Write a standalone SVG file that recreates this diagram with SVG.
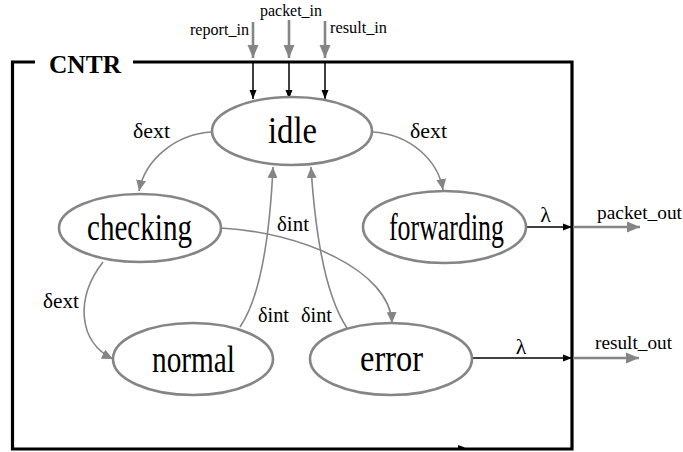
<svg xmlns="http://www.w3.org/2000/svg" width="683" height="452" viewBox="0 0 683 452">
<style>
text{font-family:"Liberation Serif","Times New Roman",serif;fill:#000}
.node ellipse{fill:#fff;stroke:#858585;stroke-width:2.6}
.nl{font-size:38px;text-anchor:middle}
.lbl{font-size:20px}
.lam{font-size:22px;text-anchor:middle}
.io{font-size:16px}
.out{font-size:19.5px}
.g{fill:none;stroke:#858585;stroke-width:1.6}
.gt{fill:none;stroke:#858585;stroke-width:2.6}
.b{fill:none;stroke:#000;stroke-width:1.5}
</style>
<defs>
<marker id="ag" markerUnits="userSpaceOnUse" markerWidth="12" markerHeight="10" refX="11" refY="5" orient="auto"><path d="M0,0 L11,5 L0,10 Z" fill="#858585"/></marker>
<marker id="agt" markerUnits="userSpaceOnUse" markerWidth="14" markerHeight="12" refX="13" refY="6" orient="auto"><path d="M0,0.5 L13,6 L0,11.5 Z" fill="#858585"/></marker>
<marker id="ab" markerUnits="userSpaceOnUse" markerWidth="10" markerHeight="8" refX="9" refY="4" orient="auto"><path d="M0,0.5 L9,4 L0,7.5 Z" fill="#000"/></marker>
</defs>

<g id="frame">
<path d="M35,62 L12.5,62 L12.5,449 L572,449 L572,62 L133,62" fill="none" stroke="#000" stroke-width="3.2"/>
<text x="49" y="73" font-size="26" font-weight="bold" textLength="72" lengthAdjust="spacingAndGlyphs">CNTR</text>
<path d="M458,445 L465,447.5 L458,450 Z" fill="#000"/>
</g>

<g id="connectors">
<line class="gt" x1="253" y1="22" x2="253" y2="58" marker-end="url(#agt)"/>
<line class="gt" x1="289" y1="20" x2="289" y2="58" marker-end="url(#agt)"/>
<line class="gt" x1="325" y1="21" x2="325" y2="58" marker-end="url(#agt)"/>
<line class="b" x1="253" y1="63" x2="253" y2="99" marker-end="url(#ab)"/>
<line class="b" x1="289" y1="63" x2="289" y2="99" marker-end="url(#ab)"/>
<line class="b" x1="325" y1="63" x2="325" y2="99" marker-end="url(#ab)"/>

<path class="g" d="M212,132 C175,134 145,160 139,191" marker-end="url(#ag)"/>
<path class="g" d="M372,132 C410,134 438,160 443,190" marker-end="url(#ag)"/>
<path class="g" d="M103,262 C75,298 78,342 113,359" marker-end="url(#ag)"/>
<path class="g" d="M221,228 C300,232 390,270 392,323" marker-end="url(#ag)"/>
<path class="g" d="M240,327 C262,295 270,230 273,167" marker-end="url(#ag)"/>
<path class="g" d="M347,328 C325,295 315,230 311,167" marker-end="url(#ag)"/>

<line class="b" x1="526" y1="227" x2="572" y2="227" marker-end="url(#ab)"/>
<line class="b" x1="472" y1="358" x2="572" y2="358" marker-end="url(#ab)"/>
<line class="gt" x1="573" y1="227" x2="640" y2="227" marker-end="url(#agt)"/>
<line class="gt" x1="573" y1="358" x2="639" y2="358" marker-end="url(#agt)"/>

<text class="io" x="190" y="35" textLength="59" lengthAdjust="spacingAndGlyphs">report_in</text>
<text class="io" x="260" y="16" textLength="62" lengthAdjust="spacingAndGlyphs">packet_in</text>
<text class="io" x="330" y="33" textLength="57" lengthAdjust="spacingAndGlyphs">result_in</text>
<text class="lbl" x="133" y="138" textLength="37" lengthAdjust="spacingAndGlyphs">δext</text>
<text class="lbl" x="410" y="138" textLength="37" lengthAdjust="spacingAndGlyphs">δext</text>
<text class="lbl" x="43" y="308" textLength="36" lengthAdjust="spacingAndGlyphs">δext</text>
<text class="lbl" x="277" y="231" textLength="32" lengthAdjust="spacingAndGlyphs">δint</text>
<text class="lbl" x="258" y="322" textLength="31" lengthAdjust="spacingAndGlyphs">δint</text>
<text class="lbl" x="301" y="322" textLength="31" lengthAdjust="spacingAndGlyphs">δint</text>
<text class="lam" x="545.5" y="222">λ</text>
<text class="lam" x="521" y="354">λ</text>
<text class="out" x="597" y="219" textLength="85" lengthAdjust="spacingAndGlyphs">packet_out</text>
<text class="out" x="595" y="349" textLength="77" lengthAdjust="spacingAndGlyphs">result_out</text>
</g>

<g id="idle" class="node">
<ellipse cx="292" cy="131" rx="80" ry="34"/>
<text class="nl" x="292.5" y="143" textLength="49" lengthAdjust="spacingAndGlyphs">idle</text>
</g>
<g id="checking" class="node">
<ellipse cx="140" cy="228" rx="81" ry="34"/>
<text class="nl" x="139.5" y="240" textLength="105" lengthAdjust="spacingAndGlyphs">checking</text>
</g>
<g id="forwarding" class="node">
<ellipse cx="444.5" cy="227" rx="81.5" ry="36"/>
<text class="nl" x="446.5" y="240" textLength="115" lengthAdjust="spacingAndGlyphs">forwarding</text>
</g>
<g id="normal" class="node">
<ellipse cx="193" cy="359" rx="80" ry="36"/>
<text class="nl" x="193.5" y="372" textLength="83" lengthAdjust="spacingAndGlyphs">normal</text>
</g>
<g id="error" class="node">
<ellipse cx="391" cy="359" rx="81" ry="36"/>
<text class="nl" x="391.5" y="371" textLength="63" lengthAdjust="spacingAndGlyphs">error</text>
</g>
</svg>
